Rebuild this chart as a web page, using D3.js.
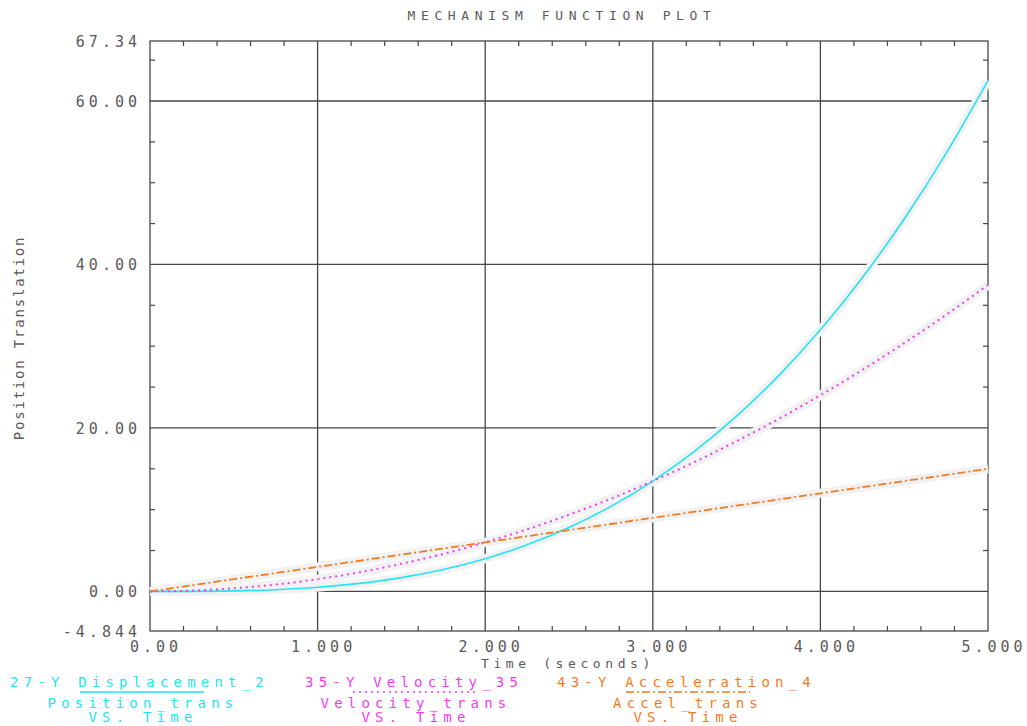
<!DOCTYPE html>
<html>
<head>
<meta charset="utf-8">
<script src="https://cdn.jsdelivr.net/npm/d3@7"></script>
<style>
  body { margin: 0; background: #fff; }
  text { font-family: "DejaVu Sans Mono", "Liberation Mono", monospace; fill: #5a5a5a; }
</style>
</head>
<body>
<div id="svg_div"></div>
<script>
var times = [0, 0.25, 0.5, 0.75, 1, 1.25, 1.5, 1.75, 2, 2.25, 2.5, 2.75, 3, 3.25, 3.5, 3.75, 4, 4.25, 4.5, 4.75, 5];
var displacement = [0, 0.01, 0.06, 0.21, 0.5, 0.98, 1.69, 2.68, 4.0, 5.7, 7.81, 10.4, 13.5, 17.16, 21.44, 26.37, 32.0, 38.38, 45.56, 53.59, 62.5];
var velocity = [0, 0.09, 0.38, 0.84, 1.5, 2.34, 3.38, 4.59, 6.0, 7.59, 9.38, 11.34, 13.5, 15.84, 18.38, 21.09, 24.0, 27.09, 30.38, 33.84, 37.5];
var acceleration = [0, 0.75, 1.5, 2.25, 3.0, 3.75, 4.5, 5.25, 6.0, 6.75, 7.5, 8.25, 9.0, 9.75, 10.5, 11.25, 12.0, 12.75, 13.5, 14.25, 15.0];

var xTicks = [0, 1, 2, 3, 4, 5];
var xTickLabels = ["0.00", "1.000", "2.000", "3.000", "4.000", "5.000"];
var yTicks = [-4.844, 0, 20, 40, 60, 67.34];
var yTickLabels = ["-4.844", "0.00", "20.00", "40.00", "60.00", "67.34"];

var legendIds = ["27-Y", "35-Y", "43-Y"];
var legendNames = ["Displacement_2", "Velocity_35", "Acceleration_4"];
var legendSubs = ["Position_trans", "Velocity_trans", "Accel_trans"];

// define some dimensions
var width = 1027, height = 726;
var plot = {left: 150, right: 988, top: 41, bottom: 631};
var gridColor = "#454545";

var svg = d3.select("#svg_div")
  .append("svg")
  .attr("width", width)
  .attr("height", height);

var x = d3.scaleLinear().domain([0, 5]).range([plot.left, plot.right]);
var y = d3.scaleLinear().domain([-4.844, 67.34]).range([plot.bottom, plot.top]);

// title
svg.append("text")
  .attr("x", 562).attr("y", 20)
  .attr("text-anchor", "middle")
  .attr("font-size", "13px")
  .attr("letter-spacing", "5.6px")
  .text("MECHANISM FUNCTION PLOT");

// grid lines, majors only
var grid = svg.append("g");
grid.selectAll("line.vx")
  .data(xTicks.slice(1, -1))
  .join("line")
  .attr("x1", d => x(d)).attr("x2", d => x(d))
  .attr("y1", plot.top).attr("y2", plot.bottom)
  .attr("stroke", gridColor).attr("stroke-width", 1.3);
grid.selectAll("line.hy")
  .data([0, 20, 40, 60])
  .join("line")
  .attr("x1", plot.left).attr("x2", plot.right)
  .attr("y1", d => y(d)).attr("y2", d => y(d))
  .attr("stroke", gridColor).attr("stroke-width", 1.3);

// minor ticks, pointing inward on all four sides
var xMinor = d3.range(0, 5.001, 0.2).filter(d => Math.abs(d - Math.round(d)) > 1e-6);
var yMinor = d3.range(5, 67, 5).filter(d => d % 20 != 0);
var minorLen = 5;
xMinor.forEach(function(d) {
  grid.append("line").attr("x1", x(d)).attr("x2", x(d))
    .attr("y1", plot.top).attr("y2", plot.top + minorLen)
    .attr("stroke", gridColor).attr("stroke-width", 1.2);
  grid.append("line").attr("x1", x(d)).attr("x2", x(d))
    .attr("y1", plot.bottom).attr("y2", plot.bottom - minorLen)
    .attr("stroke", gridColor).attr("stroke-width", 1.2);
});
yMinor.forEach(function(d) {
  grid.append("line").attr("x1", plot.left).attr("x2", plot.left + minorLen)
    .attr("y1", y(d)).attr("y2", y(d))
    .attr("stroke", gridColor).attr("stroke-width", 1.2);
  grid.append("line").attr("x1", plot.right).attr("x2", plot.right - minorLen)
    .attr("y1", y(d)).attr("y2", y(d))
    .attr("stroke", gridColor).attr("stroke-width", 1.2);
});

// border
svg.append("rect")
  .attr("x", plot.left).attr("y", plot.top)
  .attr("width", plot.right - plot.left).attr("height", plot.bottom - plot.top)
  .attr("fill", "none").attr("stroke", gridColor).attr("stroke-width", 1.3);

// tick labels
svg.append("g").selectAll("text")
  .data(xTicks)
  .join("text")
  .attr("x", d => x(d) + 6)
  .attr("y", 652)
  .attr("text-anchor", "middle")
  .attr("font-size", "15px")
  .attr("letter-spacing", "4px")
  .text((d, i) => xTickLabels[i]);

svg.append("g").selectAll("text")
  .data(yTicks)
  .join("text")
  .attr("x", 141)
  .attr("y", d => y(d) + 6)
  .attr("text-anchor", "end")
  .attr("font-size", "15px")
  .attr("letter-spacing", "4px")
  .text((d, i) => yTickLabels[i]);

// axis titles
svg.append("text")
  .attr("x", 568).attr("y", 668)
  .attr("text-anchor", "middle")
  .attr("font-size", "13px")
  .attr("letter-spacing", "4.6px")
  .text("Time (seconds)");

svg.append("text")
  .attr("transform", "translate(24, 338) rotate(-90)")
  .attr("text-anchor", "middle")
  .attr("font-size", "14px")
  .attr("letter-spacing", "1.8px")
  .text("Position Translation");

// curves
var series = [
  {values: displacement, color: "#22e4f2", dash: null, w: 1.6},
  {values: velocity, color: "#f03cf0", dash: "2,4", w: 2},
  {values: acceleration, color: "#f47a1e", dash: "8,3,2,3", w: 1.8}
];

var line = d3.line()
  .x((d, i) => x(times[i]))
  .y(d => y(d))
  .curve(d3.curveMonotoneX);

var curves = svg.append("g");
series.forEach(function(s) {
  // soft halo under each curve
  curves.append("path")
    .attr("d", line(s.values))
    .attr("fill", "none")
    .attr("stroke", "#f2f2f2")
    .attr("stroke-width", 9);
});
series.forEach(function(s) {
  curves.append("path")
    .attr("d", line(s.values))
    .attr("fill", "none")
    .attr("stroke", s.color)
    .attr("stroke-width", s.w)
    .attr("stroke-dasharray", s.dash);
});

// legend, three columns under the axis
var legendCols = [
  {start: 10, center: 140, lineFrom: 80, lineTo: 204},
  {start: 305, center: 413, lineFrom: 353, lineTo: 475},
  {start: 557, center: 685, lineFrom: 626, lineTo: 750}
];

legendCols.forEach(function(c, i) {
  var g = svg.append("g");
  g.append("text")
    .attr("x", c.start).attr("y", 687)
    .attr("font-size", "14px")
    .attr("letter-spacing", "5.2px")
    .style("fill", series[i].color)
    .text(legendIds[i] + " " + legendNames[i]);
  g.append("line")
    .attr("x1", c.lineFrom).attr("x2", c.lineTo)
    .attr("y1", 692).attr("y2", 692)
    .attr("stroke", series[i].color)
    .attr("stroke-width", 1.5)
    .attr("stroke-dasharray", series[i].dash);
  g.append("text")
    .attr("x", c.center + 3).attr("y", 708)
    .attr("text-anchor", "middle")
    .attr("font-size", "14px")
    .attr("letter-spacing", "5.2px")
    .style("fill", series[i].color)
    .text(legendSubs[i]);
  g.append("text")
    .attr("x", c.center + 3).attr("y", 722)
    .attr("text-anchor", "middle")
    .attr("font-size", "14px")
    .attr("letter-spacing", "5.2px")
    .style("fill", series[i].color)
    .text("VS. Time");
});
</script>
</body>
</html>
